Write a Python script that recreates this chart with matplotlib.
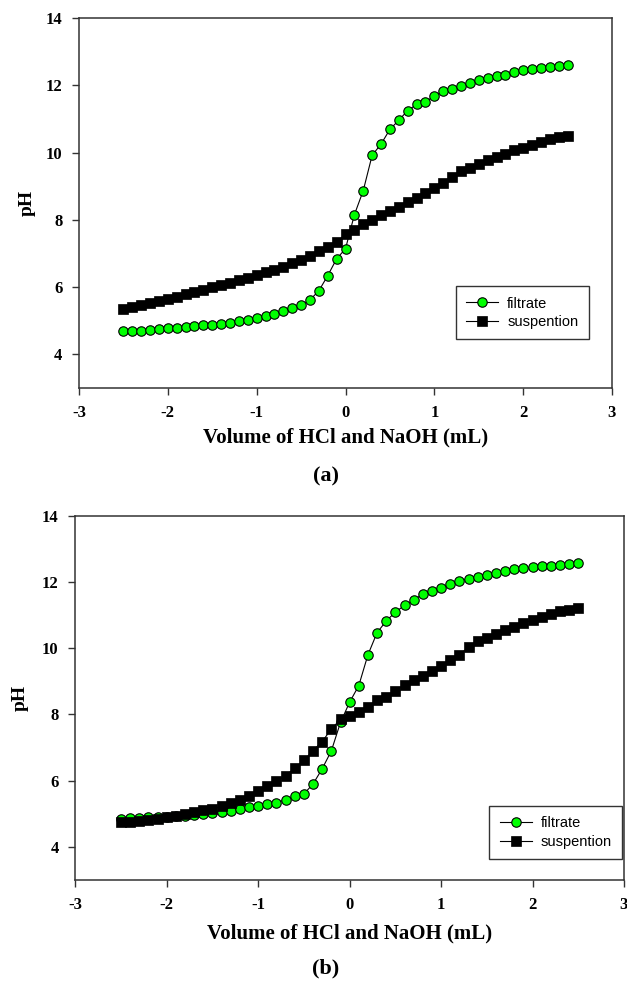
import matplotlib
matplotlib.use("Agg")
import matplotlib.pyplot as plt

# ---- data ----
volume = [-2.5, -2.4, -2.3, -2.2, -2.1, -2.0, -1.9, -1.8, -1.7, -1.6, -1.5, -1.4, -1.3,
          -1.2, -1.1, -1.0, -0.9, -0.8, -0.7, -0.6, -0.5, -0.4, -0.3, -0.2, -0.1, 0.0,
          0.1, 0.2, 0.3, 0.4, 0.5, 0.6, 0.7, 0.8, 0.9, 1.0, 1.1, 1.2, 1.3, 1.4, 1.5,
          1.6, 1.7, 1.8, 1.9, 2.0, 2.1, 2.2, 2.3, 2.4, 2.5]

a_filtrate = [4.68, 4.70, 4.70, 4.73, 4.76, 4.79, 4.79, 4.81, 4.83, 4.86, 4.88, 4.89, 4.93,
              4.98, 5.02, 5.09, 5.14, 5.20, 5.29, 5.39, 5.46, 5.62, 5.89, 6.34, 6.84, 7.14,
              8.15, 8.87, 9.92, 10.25, 10.69, 10.96, 11.25, 11.43, 11.51, 11.68, 11.82, 11.89,
              11.99, 12.07, 12.15, 12.22, 12.27, 12.32, 12.38, 12.44, 12.48, 12.51, 12.53,
              12.58, 12.60]
a_suspention = [5.34, 5.40, 5.46, 5.52, 5.58, 5.64, 5.71, 5.78, 5.85, 5.92, 5.99, 6.06, 6.13,
                6.20, 6.28, 6.36, 6.44, 6.52, 6.61, 6.71, 6.81, 6.93, 7.06, 7.20, 7.33, 7.58,
                7.70, 7.88, 8.00, 8.13, 8.26, 8.38, 8.53, 8.66, 8.79, 8.94, 9.09, 9.27, 9.44,
                9.54, 9.65, 9.77, 9.87, 9.97, 10.07, 10.15, 10.23, 10.32, 10.39, 10.45, 10.49]

b_filtrate = [4.85, 4.86, 4.88, 4.90, 4.90, 4.91, 4.92, 4.93, 4.95, 5.00, 5.03, 5.06, 5.09,
              5.15, 5.19, 5.22, 5.28, 5.33, 5.43, 5.53, 5.60, 5.90, 6.36, 6.90, 7.76, 8.37,
              8.87, 9.80, 10.47, 10.82, 11.09, 11.29, 11.46, 11.63, 11.74, 11.83, 11.94, 12.04,
              12.09, 12.16, 12.21, 12.28, 12.34, 12.38, 12.41, 12.44, 12.47, 12.49, 12.51,
              12.54, 12.58]
b_suspention = [4.74, 4.74, 4.77, 4.80, 4.84, 4.89, 4.94, 5.00, 5.04, 5.10, 5.15, 5.22, 5.33,
                5.43, 5.55, 5.68, 5.83, 5.98, 6.15, 6.38, 6.61, 6.91, 7.18, 7.56, 7.85, 7.94,
                8.07, 8.21, 8.44, 8.54, 8.72, 8.89, 9.05, 9.17, 9.30, 9.45, 9.63, 9.80, 10.03,
                10.23, 10.30, 10.42, 10.55, 10.63, 10.76, 10.85, 10.95, 11.04, 11.11, 11.16, 11.20]

x_ticks = [-3, -2, -1, 0, 1, 2, 3]
y_ticks = [4, 6, 8, 10, 12, 14]
x_label = "Volume of HCl and NaOH (mL)"
y_label = "pH"
series_names = ["filtrate", "suspention"]
panel_tags = ["(a)", "(b)"]

# ---- figure ----
W, H = 627, 990
fig = plt.figure(figsize=(W / 100, H / 100), dpi=100)
fig.patch.set_facecolor("white")

serif = "Liberation Serif"
sans = "Liberation Sans"
spine_col = "#333333"


def px_axes(l, r, t, b):
    return fig.add_axes([l / W, 1 - b / H, (r - l) / W, (b - t) / H])


panels = [
    dict(rect=(79, 612, 18, 388), f=a_filtrate, s=a_suspention,
         leg=(0.956, 0.132), ylab=-0.098, xlab=-0.135, tag_y=476),
    dict(rect=(75.3, 624, 515.7, 880), f=b_filtrate, s=b_suspention,
         leg=(0.996, 0.058), ylab=-0.100, xlab=-0.146, tag_y=968),
]

for i, p in enumerate(panels):
    ax = px_axes(*p["rect"])
    ax.plot(volume, p["f"], "-o", color="black", lw=0.8, ms=6.8,
            mfc="#00ff00", mec="black", mew=0.8, label=series_names[0], zorder=3)
    ax.plot(volume, p["s"], "-s", color="black", lw=0.8, ms=7.2,
            mfc="black", mec="black", mew=0.5, label=series_names[1], zorder=4)
    ax.set_xlim(-3, 3)
    ax.set_ylim(3, 14)
    ax.set_xticks(x_ticks)
    ax.set_yticks(y_ticks)
    ax.set_xticklabels([str(t) for t in x_ticks])
    ax.set_yticklabels([str(t) for t in y_ticks])
    for sp in ax.spines.values():
        sp.set_color(spine_col)
        sp.set_linewidth(1.1)
    ax.tick_params(direction="out", length=5, width=1.0, color=spine_col,
                   labelsize=12, pad=7)
    for lab in ax.get_xticklabels() + ax.get_yticklabels():
        lab.set_fontfamily(serif)
        lab.set_fontweight("bold")
    ax.set_xlabel(x_label, fontfamily=serif, fontweight="bold", fontsize=15, va="center")
    ax.set_ylabel(y_label, fontfamily=serif, fontweight="bold", fontsize=14, va="center")
    ax.xaxis.set_label_coords(0.5, p["xlab"])
    ax.yaxis.set_label_coords(p["ylab"], 0.5)
    leg = ax.legend(loc="lower right", bbox_to_anchor=p["leg"], borderaxespad=0,
                    frameon=True, fancybox=False, edgecolor="black",
                    prop={"family": sans, "size": 10.5}, handlelength=2.2,
                    handletextpad=0.6, labelspacing=0.3, borderpad=0.7)
    leg.get_frame().set_linewidth(1.0)
    fig.text(0.5 + 0.02, 1 - p["tag_y"] / H, panel_tags[i], ha="center", va="center",
             fontfamily=serif, fontweight="bold", fontsize=16)

fig.savefig("out.png", dpi=100, facecolor="white")
